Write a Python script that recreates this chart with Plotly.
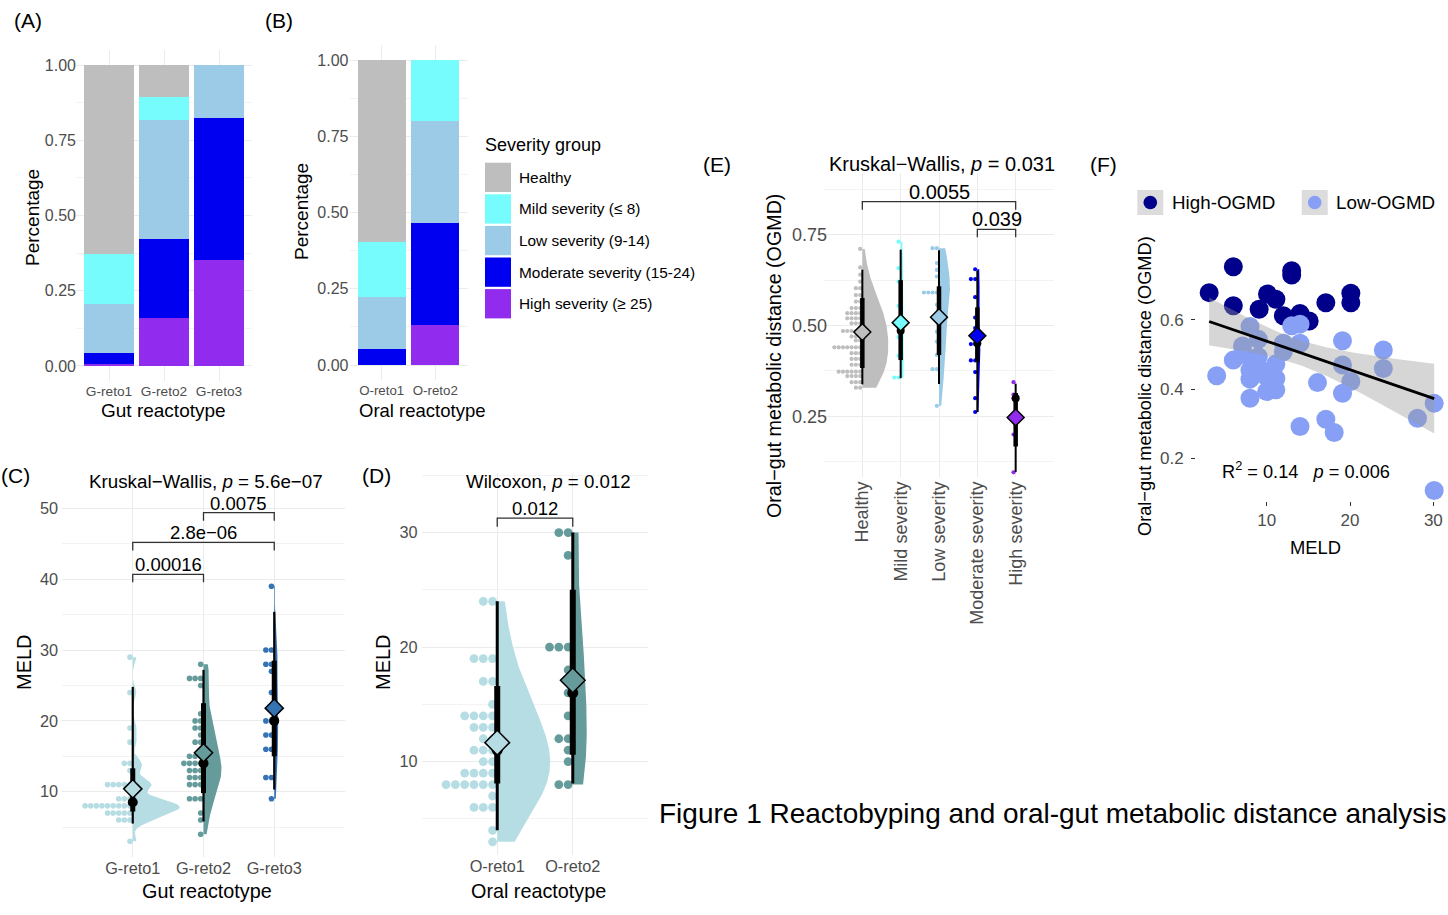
import numpy as np
import plotly.graph_objects as go

W, H = 1448, 915
FONT = "Liberation Sans, Arial, Helvetica, sans-serif"
TICK_COLOR = "#4D4D4D"
GRID = "#EBEBEB"
MINOR = "#F3F3F3"

# ------------------------------------------------------------------ data
severity_groups = ["Healthy", "Mild severity (≤ 8)", "Low severity (9-14)",
                   "Moderate severity (15-24)", "High severity (≥ 25)"]
severity_short = ["Healthy", "Mild severity", "Low severity", "Moderate severity", "High severity"]

# (A) proportions by gut reactotype
gut_types = ["G-reto1", "G-reto2", "G-reto3"]
gut_healthy = [0.629, 0.105, 0.0]
gut_mild = [0.164, 0.079, 0.0]
gut_low = [0.165, 0.395, 0.176]
gut_moderate = [0.034, 0.263, 0.471]
gut_high = [0.008, 0.158, 0.353]

# (B) proportions by oral reactotype
oral_types = ["O-reto1", "O-reto2"]
oral_healthy = [0.597, 0.0]
oral_mild = [0.181, 0.200]
oral_low = [0.171, 0.333]
oral_moderate = [0.051, 0.336]
oral_high = [0.0, 0.131]

# (C) MELD by gut reactotype
meld_g1 = [29, 24, 19, 17, 14, 14, 13, 11, 11, 11, 11, 11, 9, 9, 9,
           8, 8, 8, 8, 8, 8, 8, 8, 8, 7, 7, 7, 7, 7, 6, 6, 6, 3]
meld_g2 = [28, 26, 26, 26, 25, 21, 20, 20, 19, 19, 18, 17, 17, 15, 15, 15,
           14, 14, 14, 14, 13, 13, 13, 12, 12, 12, 11, 11, 11, 9, 9, 9, 7, 6, 4]
meld_g3 = [39, 30, 30, 28, 28, 27, 24, 22, 20, 20, 18, 18, 16, 16, 12, 12, 9]
c_mean = [10.4, 15.5, 21.8]
c_median = [8.5, 14.0, 20.0]
c_q66 = [(7.2, 13.3), (9.8, 22.5), (15.0, 28.5)]
c_q95 = [(5.5, 24.8), (5.8, 27.2), (10.3, 35.4)]
c_test = "Kruskal−Wallis, <i>p</i> = 5.6e−07"
c_pairs = [(1, 2), (1, 3), (2, 3)]
c_pvals = ["0.00016", "2.8e−06", "0.0075"]
c_bracket_y = [40.7, 45.2, 49.4]

# (D) MELD by oral reactotype
meld_o1 = [24, 24, 19, 19, 19, 17, 17, 15, 14, 14, 14, 14, 13, 13, 13, 12, 12,
           11, 11, 11, 10, 10, 9, 9, 9, 9, 8, 8, 8, 8, 8, 8, 7, 6, 6, 6, 4, 3]
meld_o2 = [30, 30, 28, 20, 20, 20, 18, 16, 14, 12, 12, 11, 10, 8, 8]
d_mean = [11.66, 17.1]
d_median = [11.0, 16.0]
d_q66 = [(8.1, 16.6), (10.6, 25.0)]
d_q95 = [(4.0, 24.0), (8.1, 30.0)]
d_test = "Wilcoxon, <i>p</i> = 0.012"
d_pairs = [(1, 2)]
d_pvals = ["0.012"]
d_bracket_y = [31.26]

# (E) OGMD by severity group
ogmd_healthy = ([0.711, 0.66, 0.64, 0.621] + [0.603] * 2 + [0.584] * 2 + [0.566] * 2 +
                [0.548] * 3 + [0.534] * 4 + [0.52] * 4 + [0.506] * 3 + [0.485] * 5 +
                [0.47] * 3 + [0.459] * 2 + [0.44] * 7 + [0.424] * 3 + [0.408] * 3 +
                [0.392] * 3 + [0.373] * 6 + [0.361] * 4 + [0.344] * 3 + [0.329] * 2)
ogmd_mild = [0.731, 0.658, 0.621, 0.554, 0.508, 0.468, 0.417, 0.357, 0.357]
ogmd_low = [0.713, 0.713, 0.672, 0.653, 0.635, 0.591, 0.591, 0.591, 0.591,
            0.557, 0.52, 0.483, 0.456, 0.419, 0.38, 0.38, 0.279]
ogmd_moderate = [0.655, 0.628, 0.628, 0.578, 0.522, 0.493, 0.449, 0.449,
                 0.404, 0.404, 0.372, 0.30, 0.262]
ogmd_high = [0.344, 0.31, 0.30, 0.24, 0.20, 0.096]
e_mean = [0.482, 0.508, 0.523, 0.472, 0.247]
e_median = [0.48, 0.486, 0.52, 0.451, 0.30]
e_q66 = [(0.383, 0.576), (0.405, 0.625), (0.419, 0.608), (0.40, 0.55), (0.167, 0.314)]
e_q95 = [(0.338, 0.654), (0.355, 0.709), (0.339, 0.707), (0.262, 0.651), (0.097, 0.34)]
e_test = "Kruskal−Wallis, <i>p</i> = 0.031"
e_pairs = [(1, 5), (4, 5)]
e_pvals = ["0.0055", "0.039"]
e_bracket_y = [0.841, 0.765]

# (F) OGMD vs MELD
f_high_meld = [3.1, 6.0, 6.0, 9.1, 10.1, 11.1, 12.0, 13.0, 13.0, 14.0, 14.0, 15.1, 17.1, 20.1, 20.1]
f_high_ogmd = [0.679, 0.754, 0.641, 0.631, 0.675, 0.660, 0.612, 0.742, 0.730,
               0.619, 0.603, 0.597, 0.650, 0.677, 0.650]
f_low_meld = [4.0, 6.0, 7.1, 8.0, 9.0, 8.0, 9.0, 8.0, 8.0, 8.0, 9.0, 10.0, 10.0,
              11.1, 11.1, 11.1, 12.0, 12.0, 13.0, 14.0, 14.0, 14.0, 16.1, 17.1,
              18.1, 19.1, 19.1, 19.1, 20.1, 24.0, 24.0, 28.1, 30.1, 30.1]
f_low_ogmd = [0.439, 0.484, 0.525, 0.581, 0.544, 0.489, 0.494, 0.455, 0.429,
              0.374, 0.465, 0.436, 0.393, 0.473, 0.431, 0.398, 0.533, 0.508,
              0.583, 0.533, 0.588, 0.292, 0.419, 0.313, 0.275, 0.540, 0.470,
              0.388, 0.422, 0.513, 0.460, 0.316, 0.359, 0.107]
f_groups = ["High-OGMD", "Low-OGMD"]
f_stats = "R<sup>2</sup> = 0.14   <i>p</i> = 0.006"

caption = "Figure 1 Reactobyping and oral-gut metabolic distance analysis"

# ------------------------------------------------------------------ styles
sev_colors = ["#BEBEBE", "#76FCFC", "#9BCBE7", "#0000F0", "#912CEE"]
reto_colors = ["#B5DDE3", "#659B9B", "#3673B3"]
f_colors = ["#00008B", "#87A0F5"]


def xd(p0, p1):
    return [p0 / W, p1 / W]


def yd(p0, p1):
    return [1 - p1 / H, 1 - p0 / H]


def px(x):
    return x / W


def py(y):
    return 1 - y / H


fig = go.Figure()


def tf(size):
    return dict(size=size, color=TICK_COLOR, family=FONT)


def base_axis(**kw):
    d = dict(showline=False, zeroline=False, ticks="", showgrid=True,
             gridcolor=GRID, gridwidth=1.2, fixedrange=True, tickfont=tf(16))
    d.update(kw)
    return d


def minor(vals):
    return dict(tickvals=vals, showgrid=True, gridcolor=MINOR, gridwidth=0.8, ticks="")


pct_vals = [0, 0.25, 0.5, 0.75, 1.0]
pct_text = ["0.00", "0.25", "0.50", "0.75", "1.00"]
layout_axes = {}
# A
layout_axes["xaxis"] = base_axis(domain=xd(76, 252), range=[0.4, 3.6], anchor="y",
                                 tickvals=[1, 2, 3], ticktext=gut_types, tickfont=tf(13.7))
layout_axes["yaxis"] = base_axis(domain=yd(50, 381), range=[-0.05, 1.05], anchor="x",
                                 tickvals=pct_vals, ticktext=pct_text, tickfont=tf(16),
                                 ticklabelstandoff=-1,
                                 minor=minor([0.125, 0.375, 0.625, 0.875]))
# B
layout_axes["xaxis2"] = base_axis(domain=xd(349.5, 467.5), range=[0.4, 2.6], anchor="y2",
                                  tickvals=[1, 2], ticktext=oral_types, tickfont=tf(13.3))
layout_axes["yaxis2"] = base_axis(domain=yd(44.75, 380.25), range=[-0.05, 1.05], anchor="x2",
                                  tickvals=pct_vals, ticktext=pct_text, tickfont=tf(16),
                                  minor=minor([0.125, 0.375, 0.625, 0.875]))
# C
layout_axes["xaxis3"] = base_axis(domain=xd(62, 345), range=[0, 4], anchor="y3",
                                  tickvals=[1, 2, 3], ticktext=gut_types, tickfont=tf(16.3))
layout_axes["yaxis3"] = base_axis(domain=yd(473, 857), range=[0.78, 55], anchor="x3",
                                  tickvals=[10, 20, 30, 40, 50], tickfont=tf(16.3),
                                  ticklabelstandoff=3,
                                  minor=minor([5, 15, 25, 35, 45]))
# D
layout_axes["xaxis4"] = base_axis(domain=xd(421.7, 648.3), range=[0, 3], anchor="y4",
                                  tickvals=[1, 2], ticktext=oral_types, tickfont=tf(16.3))
layout_axes["yaxis4"] = base_axis(domain=yd(473, 855), range=[1.85, 35.2], anchor="x4",
                                  tickvals=[10, 20, 30], tickfont=tf(16.3),
                                  ticklabelstandoff=3,
                                  minor=minor([5, 15, 25, 35]))
# E
layout_axes["xaxis5"] = base_axis(domain=xd(824, 1054), range=[0, 6], anchor="y5",
                                  tickvals=[1, 2, 3, 4, 5], ticktext=severity_short, tickangle=-90,
                                  tickfont=tf(18))
layout_axes["yaxis5"] = base_axis(domain=yd(173, 477), range=[0.083, 0.92], anchor="x5",
                                  tickvals=[0.25, 0.5, 0.75], ticktext=["0.25", "0.50", "0.75"],
                                  tickfont=tf(18), ticklabelstandoff=-4,
                                  minor=minor([0.125, 0.375, 0.625, 0.875]))
# F
layout_axes["xaxis6"] = base_axis(domain=xd(1196, 1444), range=[1.52, 31.28], anchor="y6",
                                  showgrid=False, ticks="outside", ticklen=4, tickwidth=1.2,
                                  tickcolor="#333333", tickvals=[10, 20, 30], tickfont=tf(17))
layout_axes["yaxis6"] = base_axis(domain=yd(257, 500.6), range=[0.078, 0.782], anchor="x6",
                                  showgrid=False, ticks="outside", ticklen=4, tickwidth=1.2,
                                  tickcolor="#333333", tickvals=[0.2, 0.4, 0.6], tickfont=tf(17),
                                  ticklabelstandoff=4)

# ------------------------------------------------------------------ (A), (B) stacked bars
gut_stack = [gut_high, gut_moderate, gut_low, gut_mild, gut_healthy]
oral_stack = [oral_high, oral_moderate, oral_low, oral_mild, oral_healthy]
stack_colors = [sev_colors[4], sev_colors[3], sev_colors[2], sev_colors[1], sev_colors[0]]
stack_names = [severity_groups[4], severity_groups[3], severity_groups[2],
               severity_groups[1], severity_groups[0]]
for vals, col, name in zip(gut_stack, stack_colors, stack_names):
    fig.add_trace(go.Bar(x=[1, 2, 3], y=vals, width=0.9, marker=dict(color=col, line=dict(width=0)),
                         name=name, showlegend=False, xaxis="x", yaxis="y"))
for vals, col, name in zip(oral_stack, stack_colors, stack_names):
    fig.add_trace(go.Bar(x=[1, 2], y=vals, width=0.9, marker=dict(color=col, line=dict(width=0)),
                         name=name, showlegend=False, xaxis="x2", yaxis="y2"))

ann = []


# ------------------------------------------------------------------ rainclouds
def raincloud(ax, groups, colors, bws, slab_px, ppu, dot_px, dot_size, q66, q95,
              medians, means, thin_w, thick_w, med_size, dia_size):
    xa, ya = "x%d" % ax, "y%d" % ax
    common = dict(xaxis=xa, yaxis=ya, hoverinfo="skip", showlegend=False)
    for i, vals in enumerate(groups):
        c = i + 1
        col = colors[i]
        v = np.asarray(vals, float)
        if slab_px[i] > 0:
            g = np.linspace(v.min(), v.max(), 300)
            d = np.exp(-0.5 * ((g[:, None] - v[None, :]) / bws[i]) ** 2).sum(axis=1)
            d = d / d.max() * slab_px[i] / ppu
            xs = np.concatenate([c + d, [c, c]])
            ys = np.concatenate([g, [g[-1], g[0]]])
            fig.add_trace(go.Scatter(x=xs, y=ys, mode="lines", fill="toself", fillcolor=col,
                                     line=dict(width=0, color=col), **common))
        uniq, cnt = np.unique(v, return_counts=True)
        dx, dy = [], []
        sp = dot_px / ppu
        for u, k in zip(uniq, cnt):
            for j in range(k):
                dx.append(c - (j + 0.5) * sp)
                dy.append(u)
        fig.add_trace(go.Scatter(x=dx, y=dy, mode="markers",
                                 marker=dict(color=col, size=dot_size, line=dict(width=0)), **common))
        fig.add_trace(go.Scatter(x=[c, c], y=list(q95[i]), mode="lines",
                                 line=dict(color="black", width=thin_w), **common))
        fig.add_trace(go.Scatter(x=[c, c], y=list(q66[i]), mode="lines",
                                 line=dict(color="black", width=thick_w), **common))
        fig.add_trace(go.Scatter(x=[c], y=[medians[i]], mode="markers",
                                 marker=dict(color="black", size=med_size), **common))
        fig.add_trace(go.Scatter(x=[c], y=[means[i]], mode="markers",
                                 marker=dict(symbol="diamond", color=col, size=dia_size,
                                             line=dict(color="black", width=1.5)), **common))


def brackets(ax, pairs, labels, tops, tip_units, fs):
    xa, ya = "x%d" % ax, "y%d" % ax
    for (a, b), lab, top in zip(pairs, labels, tops):
        fig.add_trace(go.Scatter(x=[a, a, b, b], y=[top - tip_units, top, top, top - tip_units],
                                 mode="lines", line=dict(color="#333333", width=1.3),
                                 xaxis=xa, yaxis=ya, hoverinfo="skip", showlegend=False))
        ann.append(dict(x=(a + b) / 2, y=top, xref=xa, yref=ya, text=lab, showarrow=False,
                        yanchor="bottom", yshift=-3, font=dict(size=fs, color="black", family=FONT)))


# C: px per x unit 70.75, px per y unit 7.083
raincloud(3, [meld_g1, meld_g2, meld_g3], reto_colors, [0.8, 2.5, 3.0], [47, 18, 4],
          70.75, 5.6, 5.6, c_q66, c_q95, c_median, c_mean, 2.2, 5.0, 10, 14)
brackets(3, c_pairs, c_pvals, c_bracket_y, 8 / 7.083, 18.5)
# D: px per x unit 75.53, px per y unit 11.45
raincloud(4, [meld_o1, meld_o2], reto_colors[:2], [3.2, 4.0], [53, 14],
          75.53, 9.3, 8.8, d_q66, d_q95, d_median, d_mean, 3.0, 6.0, 11, 19)
brackets(4, d_pairs, d_pvals, d_bracket_y, 8.5 / 11.45, 18.5)
# E: px per x unit 38.33, px per y unit 363.3
raincloud(5, [ogmd_healthy, ogmd_mild, ogmd_low, ogmd_moderate, ogmd_high], sev_colors,
          [0.055, 0.05, 0.06, 0.05, 0.05], [26, 3, 11, 3, 0],
          38.33, 4.3, 4.2, e_q66, e_q95, e_median, e_mean, 2.0, 4.5, 8, 13)
brackets(5, e_pairs, e_pvals, e_bracket_y, 8 / 363.3, 20)

# ------------------------------------------------------------------ (F) scatter + lm
fig.add_trace(go.Scatter(x=f_high_meld, y=f_high_ogmd, mode="markers", name=f_groups[0],
                         marker=dict(color=f_colors[0], size=19, line=dict(width=0)),
                         xaxis="x6", yaxis="y6", showlegend=False))
fig.add_trace(go.Scatter(x=f_low_meld, y=f_low_ogmd, mode="markers", name=f_groups[1],
                         marker=dict(color=f_colors[1], size=19, line=dict(width=0)),
                         xaxis="x6", yaxis="y6", showlegend=False))
fx = np.array(f_high_meld + f_low_meld, float)
fy = np.array(f_high_ogmd + f_low_ogmd, float)
nn = len(fx)
slope, intercept = np.polyfit(fx, fy, 1)
resid = fy - (intercept + slope * fx)
s_err = np.sqrt((resid ** 2).sum() / (nn - 2))
grid_x = np.linspace(fx.min(), fx.max(), 80)
fit_y = intercept + slope * grid_x
se = s_err * np.sqrt(1.0 / nn + (grid_x - fx.mean()) ** 2 / ((fx - fx.mean()) ** 2).sum())
tcrit = 2.012
fig.add_trace(go.Scatter(x=np.concatenate([grid_x, grid_x[::-1]]),
                         y=np.concatenate([fit_y + tcrit * se, (fit_y - tcrit * se)[::-1]]),
                         mode="lines", fill="toself", fillcolor="rgba(153,153,153,0.4)",
                         line=dict(width=0), xaxis="x6", yaxis="y6", hoverinfo="skip",
                         showlegend=False))
fig.add_trace(go.Scatter(x=grid_x, y=fit_y, mode="lines", line=dict(color="black", width=2.8),
                         xaxis="x6", yaxis="y6", hoverinfo="skip", showlegend=False))


# ------------------------------------------------------------------ text / legends
def text(x, y, s, size, xanchor="center", angle=0, color="black"):
    if xanchor == "left":
        x -= 2
    ann.append(dict(x=px(x), y=py(y), xref="paper", yref="paper", text=s, showarrow=False,
                    xanchor=xanchor, yanchor="middle", textangle=angle,
                    font=dict(size=size, color=color, family=FONT)))


panel_labels = ["(A)", "(B)", "(C)", "(D)", "(E)", "(F)"]
panel_label_pos = [(14, 20), (265, 20), (1, 475), (362, 475), (703, 165), (1090, 165)]
for lab, (lx, ly) in zip(panel_labels, panel_label_pos):
    text(lx, ly, lab, 21, xanchor="left")

text(32, 218, "Percentage", 19, angle=-90)
text(163, 410, "Gut reactotype", 19)
text(302, 212, "Percentage", 19, angle=-90)
text(422, 410, "Oral reactotype", 18.5)
text(24, 662, "MELD", 20, angle=-90)
text(207, 891, "Gut reactotype", 19.8)
text(383, 662, "MELD", 20, angle=-90)
text(538, 891, "Oral reactotype", 19.8)
text(774, 356, "Oral−gut metabolic distance (OGMD)", 19.7, angle=-90)
text(1145, 386, "Oral−gut metabolic distance (OGMD)", 18.2, angle=-90)
text(1315, 547, "MELD", 18.4)

text(205.5, 481, c_test, 18.8)
text(548.5, 481, d_test, 18.7)
text(942, 164, e_test, 20)
text(1306, 470, f_stats, 18.2)

# severity legend
text(485, 145, "Severity group", 18, xanchor="left")
shapes = []
for i, (name, col) in enumerate(zip(severity_groups, sev_colors)):
    y0 = 162.7 + 31.6 * i
    shapes.append(dict(type="rect", xref="paper", yref="paper", x0=px(485), x1=px(511),
                       y0=py(y0 + 29.3), y1=py(y0), fillcolor=col, line=dict(width=0)))
    text(519, y0 + 14.6, name, 15.4, xanchor="left")

# F legend
for name, col, kx in zip(f_groups, f_colors, [1137.3, 1301.7]):
    shapes.append(dict(type="rect", xref="paper", yref="paper", x0=px(kx), x1=px(kx + 26),
                       y0=py(215), y1=py(190), fillcolor="#DCDCDC", line=dict(width=0)))
    cx, cy, r = kx + 13, 202.5, 6.8
    shapes.append(dict(type="circle", xref="paper", yref="paper", x0=px(cx - r), x1=px(cx + r),
                       y0=py(cy + r), y1=py(cy - r), fillcolor=col, line=dict(width=0)))
    text(kx + 34.5, 202.5, name, 18.8, xanchor="left")

text(659, 813, caption, 28, xanchor="left")

fig.update_layout(width=W, height=H, margin=dict(l=0, r=0, t=0, b=0), autosize=False,
                  paper_bgcolor="white", plot_bgcolor="white", barmode="stack",
                  font=dict(family=FONT, color="black"), shapes=shapes,
                  showlegend=False, **layout_axes)
fig.layout.annotations = ann

fig.write_html("out.html", config={"displayModeBar": False},
               post_script="document.body.style.margin='0px';document.body.style.overflow='hidden';")
